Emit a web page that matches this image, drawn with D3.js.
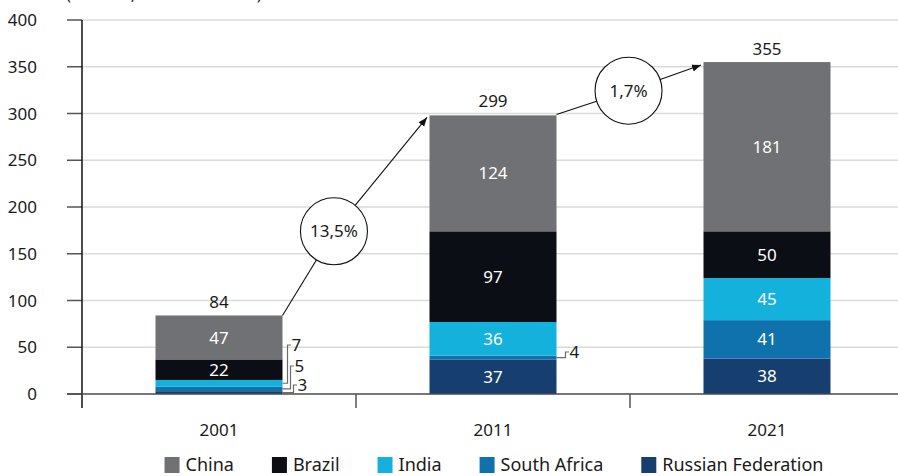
<!DOCTYPE html>
<html>
<head>
<meta charset="utf-8">
<script src="https://cdn.jsdelivr.net/npm/d3@7/dist/d3.min.js"></script>
<style>
  html, body { margin: 0; padding: 0; background: #fff; }
  svg { display: block; font-family: "Noto Sans", "Open Sans", sans-serif; }
</style>
</head>
<body>
<svg id="chart" width="898" height="476"></svg>
<script>
// Values (stacked bottom to top: Russian Federation, South Africa, India, Brazil, China)
const years = ["2001", "2011", "2021"];
const russia = [3, 37, 38];
const southAfrica = [5, 4, 41];
const india = [7, 36, 45];
const brazil = [22, 97, 50];
const china = [47, 124, 181];
const totals = [84, 299, 355];
const growthRates = ["13,5%", "1,7%"];
const yTicks = [0, 50, 100, 150, 200, 250, 300, 350, 400];
const unitNote = "(USD bn, current dollars)";

const seriesKeys = ["Russian Federation", "South Africa", "India", "Brazil", "China"];
const seriesValues = {
  "Russian Federation": russia,
  "South Africa": southAfrica,
  "India": india,
  "Brazil": brazil,
  "China": china
};
const legendOrder = ["China", "Brazil", "India", "South Africa", "Russian Federation"];

const colors = {
  "China": "#707174",
  "Brazil": "#0c0e15",
  "India": "#14b1dc",
  "South Africa": "#0f72ad",
  "Russian Federation": "#163f70"
};

// Layout
const svg = d3.select("#chart");
const plotLeft = 82, plotRight = 904, plotTop = 20, plotBottom = 394;
const fontSize = 17;

const y = d3.scaleLinear().domain([0, 400]).range([plotBottom, plotTop]);
const x = d3.scaleBand().domain(years).range([plotLeft, plotRight]);
const barW = x.bandwidth() * 0.4635;
const barX = d => x(d) + x.bandwidth() / 2 - barW / 2;

// Build stacked table
const table = years.map((yr, i) => {
  const row = { year: yr };
  seriesKeys.forEach(k => row[k] = seriesValues[k][i]);
  return row;
});
const stacked = d3.stack().keys(seriesKeys)(table);

// Unit note (sits at the top edge)
svg.append("text")
  .attr("x", 66).attr("y", -0.5)
  .attr("font-size", fontSize).attr("fill", "#1a1a1a")
  .text(unitNote);

// Gridlines
svg.append("g").selectAll("line").data(yTicks.filter(t => t > 0)).join("line")
  .attr("x1", plotLeft).attr("x2", 898)
  .attr("y1", d => y(d)).attr("y2", d => y(d))
  .attr("stroke", "#dadada").attr("stroke-width", 1.5);

// Left ticks
svg.append("g").selectAll("line").data(yTicks).join("line")
  .attr("x1", 67).attr("x2", plotLeft)
  .attr("y1", d => y(d)).attr("y2", d => y(d))
  .attr("stroke", "#555").attr("stroke-width", 1.5);

// Y tick labels
svg.append("g").selectAll("text").data(yTicks).join("text")
  .attr("x", 37).attr("y", d => y(d))
  .attr("dy", "0.36em")
  .attr("text-anchor", "end")
  .attr("font-size", fontSize).attr("fill", "#1a1a1a")
  .text(d => d);

// Bars
const layers = svg.append("g").selectAll("g").data(stacked).join("g")
  .attr("fill", d => colors[d.key]);
layers.selectAll("rect").data(d => d.map(s => ({ s, key: d.key }))).join("rect")
  .attr("x", d => barX(d.s.data.year))
  .attr("width", barW)
  .attr("y", d => y(d.s[1]))
  .attr("height", d => y(d.s[0]) - y(d.s[1]));

// Segment labels inside bars
const inside = [];
stacked.forEach(layer => layer.forEach(s => {
  const v = s[1] - s[0];
  if (v >= 10) inside.push({ year: s.data.year, v, mid: (s[0] + s[1]) / 2 });
}));
svg.append("g").selectAll("text").data(inside).join("text")
  .attr("x", d => x(d.year) + x.bandwidth() / 2)
  .attr("y", d => y(d.mid))
  .attr("dy", "0.36em")
  .attr("text-anchor", "middle")
  .attr("font-size", fontSize).attr("fill", "#fff")
  .text(d => d.v);

// Call-outs for thin segments (label offsets in px)
const calloutLayout = [
  { year: "2001", key: "India", labelY: 345, elbow: 5 },
  { year: "2001", key: "South Africa", labelY: 366, elbow: 8 },
  { year: "2001", key: "Russian Federation", labelY: 385, elbow: 11 },
  { year: "2011", key: "South Africa", labelY: 352, elbow: 9 }
];
const calloutG = svg.append("g");
calloutLayout.forEach(c => {
  const layer = stacked.find(l => l.key === c.key);
  const s = layer[years.indexOf(c.year)];
  const xr = barX(c.year) + barW;
  const ym = y((s[0] + s[1]) / 2);
  const xe = xr + c.elbow;
  calloutG.append("path")
    .attr("d", `M${xr},${ym}H${xe}V${c.labelY}H${xe + 3.5}`)
    .attr("fill", "none").attr("stroke", "#6b6b6b").attr("stroke-width", 1.2);
  calloutG.append("text")
    .attr("x", xe + 4).attr("y", c.labelY)
    .attr("dy", "0.36em")
    .attr("font-size", fontSize).attr("fill", "#1a1a1a")
    .text(s[1] - s[0]);
});

// Totals above bars
svg.append("g").selectAll("text").data(years).join("text")
  .attr("x", d => x(d) + x.bandwidth() / 2)
  .attr("y", (d, i) => y(totals[i]) - 7)
  .attr("text-anchor", "middle")
  .attr("font-size", fontSize).attr("fill", "#1a1a1a")
  .text((d, i) => totals[i]);

// Axes lines
svg.append("line")
  .attr("x1", plotLeft).attr("x2", plotLeft).attr("y1", plotTop).attr("y2", 408)
  .attr("stroke", "#111").attr("stroke-width", 1.5);
svg.append("line")
  .attr("x1", 67).attr("x2", 898).attr("y1", plotBottom).attr("y2", plotBottom)
  .attr("stroke", "#4a4a4a").attr("stroke-width", 1.6);
svg.append("g").selectAll("line").data(years.slice(1)).join("line")
  .attr("x1", d => x(d)).attr("x2", d => x(d))
  .attr("y1", plotBottom).attr("y2", 408)
  .attr("stroke", "#555").attr("stroke-width", 1.5);

// Year labels
svg.append("g").selectAll("text").data(years).join("text")
  .attr("x", d => x(d) + x.bandwidth() / 2)
  .attr("y", 436)
  .attr("text-anchor", "middle")
  .attr("font-size", fontSize).attr("fill", "#1a1a1a")
  .text(d => d);

// Growth arrows
svg.append("defs").append("marker")
  .attr("id", "arrowhead")
  .attr("viewBox", "0 0 10 10")
  .attr("refX", 10).attr("refY", 5)
  .attr("markerWidth", 9).attr("markerHeight", 9)
  .attr("markerUnits", "userSpaceOnUse")
  .attr("orient", "auto")
  .append("path").attr("d", "M0,1L10,5L0,9Z").attr("fill", "#111");

const growthLayout = [
  { t: 0.35, value: 174 },
  { t: 0.49, value: 324.4 }
];
growthRates.forEach((g, i) => {
  const x0 = barX(years[i]) + barW, y0 = y(totals[i]);
  const x1 = barX(years[i + 1]) - 2.5, y1 = y(totals[i + 1]) + 3;
  const cx = x0 + (barX(years[i + 1]) - x0) * growthLayout[i].t;
  const cy = y(growthLayout[i].value);
  const ag = svg.append("g");
  ag.append("line")
    .attr("x1", x0).attr("y1", y0).attr("x2", cx).attr("y2", cy)
    .attr("stroke", "#111").attr("stroke-width", 1.1);
  ag.append("line")
    .attr("x1", cx).attr("y1", cy).attr("x2", x1).attr("y2", y1)
    .attr("stroke", "#111").attr("stroke-width", 1.1)
    .attr("marker-end", "url(#arrowhead)");
  ag.append("circle")
    .attr("cx", cx).attr("cy", cy).attr("r", 33.5)
    .attr("fill", "#fff").attr("stroke", "#111").attr("stroke-width", 1.1);
  ag.append("text")
    .attr("x", cx).attr("y", cy).attr("dy", "0.36em")
    .attr("text-anchor", "middle")
    .attr("font-size", fontSize).attr("fill", "#1a1a1a")
    .text(g);
});

// Legend
const legend = svg.append("g");
let lx = 0;
legendOrder.forEach(k => {
  const item = legend.append("g").attr("transform", `translate(${lx},0)`);
  item.append("rect").attr("x", 0).attr("y", 457).attr("width", 15).attr("height", 16)
    .attr("fill", colors[k]);
  const t = item.append("text")
    .attr("x", 21).attr("y", 471)
    .attr("font-size", fontSize + 1).attr("fill", "#1a1a1a")
    .text(k);
  lx += 21 + t.node().getComputedTextLength() + 38;
});
const legendW = lx - 38;
legend.attr("transform", `translate(${494 - legendW / 2},0)`);
</script>
</body>
</html>
